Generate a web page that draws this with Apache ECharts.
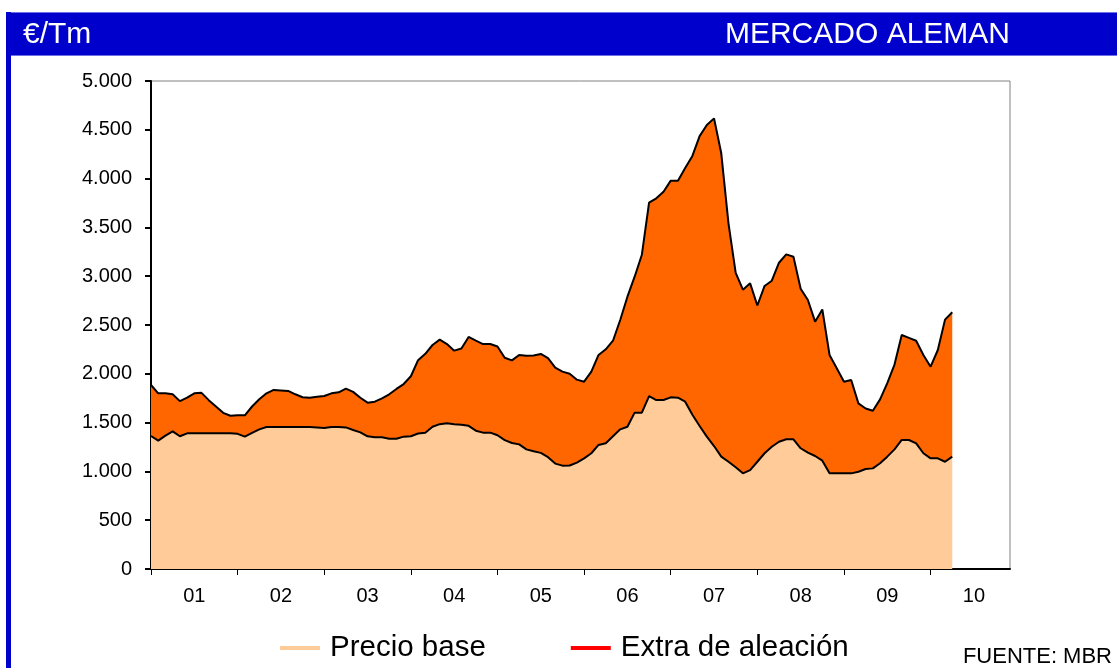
<!DOCTYPE html>
<html>
<head>
<meta charset="utf-8">
<title>Mercado aleman</title>
<script src="https://cdn.jsdelivr.net/npm/echarts@6/dist/echarts.min.js"></script>
<style>
    html,body{margin:0;padding:0;background:#fff;}
    #main{width:1117px;height:668px;}
</style>
</head>
<body>
<div id="main"></div>
<script>
// etiquetas de los años (eje X)
var yearLabels = ['01','02','03','04','05','06','07','08','09','10'];

// precio base mensual, ene 2001 - abr 2010 (€/Tm)
var precioBase = [
    1363,1315,1366,1410,1360,1390,1390,1390,1390,1390,1390,1390,
    1385,1356,1395,1431,1455,1455,1455,1455,1455,1455,1455,1451,
    1445,1455,1455,1451,1424,1400,1359,1349,1349,1335,1335,1356,
    1360,1388,1397,1458,1484,1493,1482,1479,1467,1417,1397,1397,
    1370,1320,1291,1277,1226,1206,1190,1146,1080,1059,1061,1090,
    1134,1186,1271,1288,1360,1431,1458,1602,1602,1772,1731,1731,
    1759,1755,1714,1580,1465,1356,1260,1151,1099,1042,980,1014,
    1099,1186,1253,1304,1329,1329,1237,1192,1158,1110,980,980,
    980,980,997,1025,1031,1083,1151,1226,1322,1322,1288,1186,
    1134,1134,1099,1151
];

// extra de aleación mensual (€/Tm)
var extraAleacion = [
    522,485,434,380,360,365,410,415,340,275,210,180,
    190,219,270,309,345,380,375,370,335,305,300,314,
    327,345,355,397,391,355,345,365,399,455,510,539,
    615,752,808,837,866,812,755,781,911,923,908,908,
    910,845,847,916,960,982,1013,1014,983,963,939,850,
    785,836,922,963,979,1120,1332,1393,1618,1981,2067,2135,
    2220,2224,2394,2652,2970,3193,3357,3108,2443,1993,1882,1913,
    1601,1714,1701,1834,1895,1871,1635,1564,1376,1550,1213,1076,
    939,956,700,620,591,655,754,869,1075,1046,1051,1007,
    939,1110,1456,1479
];

// categorías mensuales (10 años x 12 meses)
var meses = [];
yearLabels.forEach(function(y){
    for(var m = 1; m <= 12; m++){
        meses.push(y + '-' + (m < 10 ? '0' + m : m));
    }
});

var fuente = "'Liberation Sans', Arial, sans-serif";

var myChart = echarts.init(document.getElementById('main'));

var option = {
    backgroundColor: '#fff',
    textStyle: {fontFamily: fuente},
    animation: false,
    graphic: [
        // franja azul superior y borde izquierdo
        {type: 'rect', left: 6, top: 12, shape: {width: 1111, height: 43},
            style: {fill: '#0000CC', stroke: '#6f6fe8', lineWidth: 1}},
        {type: 'rect', left: 6, top: 12, shape: {width: 5, height: 656},
            style: {fill: '#0000CC'}},
        {type: 'text', left: 23, top: 20,
            style: {text: '€/Tm', fill: '#fff', font: '30px ' + fuente}},
        {type: 'text', right: 107, top: 20,
            style: {text: 'MERCADO ALEMAN', fill: '#fff', font: '30px ' + fuente}},
        {type: 'text', right: 5, top: 646,
            style: {text: 'FUENTE: MBR', fill: '#000', font: '22px ' + fuente}}
    ],
    legend: {
        left: 275,
        top: 628,
        icon: 'rect',
        itemWidth: 40,
        itemHeight: 4,
        itemGap: 85,
        textStyle: {fontSize: 29.5, color: '#000', fontFamily: fuente, padding: [0, 0, 0, 5]},
        data: [
            {name: 'Precio base', itemStyle: {color: '#FFCC99'}},
            {name: 'Extra de aleación', itemStyle: {color: '#FF0000'}}
        ]
    },
    grid: {
        left: 151, right: 107, top: 81, bottom: 99,
        show: true, borderColor: '#808080', borderWidth: 1,
        backgroundColor: '#fff'
    },
    xAxis: {
        type: 'category',
        data: meses,
        boundaryGap: false,
        axisLine: {lineStyle: {color: '#000', width: 2}},
        axisTick: {
            length: 6,
            lineStyle: {color: '#000', width: 1},
            interval: function(i){ return i % 12 === 0; }
        },
        axisLabel: {
            margin: 17,
            fontSize: 20,
            color: '#000',
            interval: function(i){ return i % 12 === 6; },
            formatter: function(v, i){ return yearLabels[Math.floor(i / 12)]; }
        },
        splitLine: {show: false}
    },
    yAxis: {
        type: 'value',
        min: 0,
        max: 5000,
        interval: 500,
        axisLine: {show: true, lineStyle: {color: '#000', width: 2}},
        axisTick: {show: true, length: 6, lineStyle: {color: '#000', width: 2}},
        axisLabel: {
            margin: 19,
            fontSize: 20,
            color: '#000',
            formatter: function(v){
                return String(v).replace(/\B(?=(\d{3})+(?!\d))/g, '.');
            }
        },
        splitLine: {show: false}
    },
    series: [
        {
            name: 'Precio base',
            type: 'line',
            stack: 'total',
            data: precioBase,
            showSymbol: false,
            z: 3,
            color: '#FFCC99',
            lineStyle: {color: '#000', width: 2},
            areaStyle: {color: '#FFCC99', opacity: 1}
        },
        {
            name: 'Extra de aleación',
            type: 'line',
            stack: 'total',
            data: extraAleacion,
            showSymbol: false,
            z: 2,
            color: '#FF6600',
            lineStyle: {color: '#000', width: 2},
            areaStyle: {color: '#FF6600', opacity: 1}
        }
    ]
};

myChart.setOption(option);
</script>
</body>
</html>
